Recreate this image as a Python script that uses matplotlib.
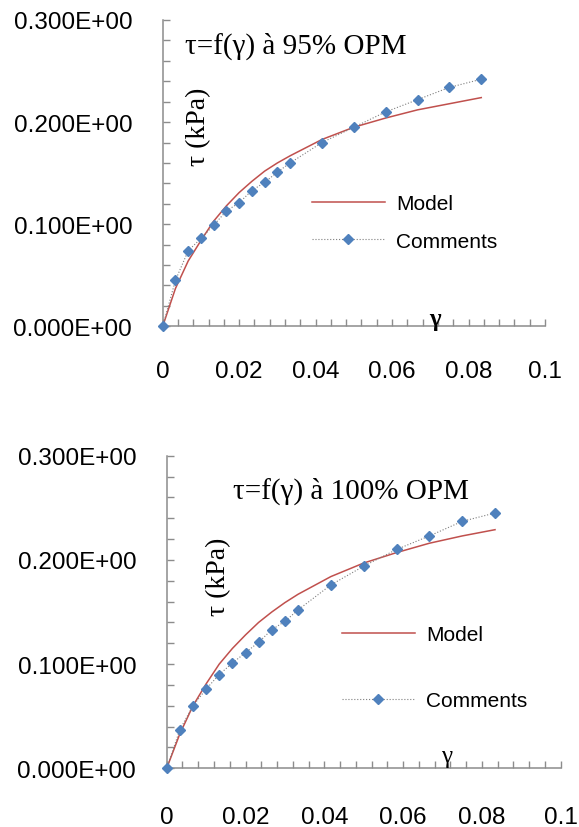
import numpy as np
import matplotlib
matplotlib.use("Agg")
import matplotlib.pyplot as plt
from matplotlib.ticker import FixedLocator

# ---- data ----
gamma = [0, 0.00333, 0.00667, 0.01, 0.01333, 0.01667, 0.02, 0.02333, 0.02667,
         0.03, 0.03333, 0.04167, 0.05, 0.05833, 0.06667, 0.075, 0.08333]

# 95% OPM
tau95_obs = [0, 0.045, 0.074, 0.086, 0.099, 0.113, 0.121, 0.133, 0.141,
             0.151, 0.160, 0.180, 0.195, 0.210, 0.222, 0.234, 0.242]
tau95_mod = [0, 0.037, 0.064, 0.084, 0.103, 0.118, 0.131, 0.142, 0.152,
             0.160, 0.167, 0.183, 0.195, 0.204, 0.212, 0.218, 0.224]

# 100% OPM
tau100_obs = [0, 0.037, 0.060, 0.076, 0.090, 0.101, 0.111, 0.121, 0.133,
              0.141, 0.152, 0.176, 0.194, 0.210, 0.223, 0.237, 0.245]
tau100_mod = [0, 0.033, 0.060, 0.081, 0.100, 0.115, 0.128, 0.140, 0.150,
              0.159, 0.167, 0.184, 0.197, 0.207, 0.216, 0.223, 0.229]

ytick_vals = [0.0, 0.1, 0.2, 0.3]
ytick_labels = ['0.000E+00', '0.100E+00', '0.200E+00', '0.300E+00']
xtick_vals = [0, 0.02, 0.04, 0.06, 0.08, 0.1]
xtick_labels = ['0', '0.02', '0.04', '0.06', '0.08', '0.1']

titles = [u'τ=f(γ) à 95% OPM', u'τ=f(γ) à 100% OPM']

red = '#C0504D'
blue = '#4F81BD'
gray = '#8C8C8C'
sans = 'Liberation Sans'
serif = 'Liberation Serif'

W, H = 579, 828
fig = plt.figure(figsize=(W/100, H/100), dpi=100)

# axes boxes in pixels: x0, x1, y_bottom(0), y_top(0.3)
boxes = [(162.7, 545.0, 327.3, 21.0), (166.7, 560.7, 769.3, 456.7)]
title_pos = [(0.058, 0.916), (0.169, 0.888)]
ylab_pos = [(0.093, 0.655), (0.131, 0.616)]
g_pos = [(0.712, 0.026), (0.711, 0.038)]
g_weight = ['bold', 'normal']
xpad = [24, 27]
leg_pos = [(311.7, 223.3, 0.9), (341.7, 668.9, 2.25)]
series = [(tau95_obs, tau95_mod), (tau100_obs, tau100_mod)]

for i in range(2):
    x0, x1, yb, yt = boxes[i]
    ax = fig.add_axes([x0/W, 1 - yb/H, (x1-x0)/W, (yb-yt)/H])
    obs, mod = series[i]
    ax.plot(gamma, mod, color=red, lw=1.1, label='Model', zorder=3)
    ax.plot(gamma, obs, color='#7F7F7F', lw=0.8, ls=':', marker='D', ms=5.5,
            mfc=blue, mec=blue, label='Comments', clip_on=False, zorder=4)

    ax.set_xlim(0, 0.1)
    ax.set_ylim(0, 0.3)
    for s in ['top', 'right']:
        ax.spines[s].set_visible(False)
    for s in ['left', 'bottom']:
        ax.spines[s].set_color(gray)
        ax.spines[s].set_linewidth(1.1)

    ax.yaxis.set_major_locator(FixedLocator(ytick_vals))
    ax.yaxis.set_minor_locator(FixedLocator(np.arange(0, 0.301, 0.02)))
    ax.set_yticklabels(ytick_labels, fontfamily=sans, fontsize=17.5)
    ax.xaxis.set_major_locator(FixedLocator(xtick_vals))
    ax.xaxis.set_minor_locator(FixedLocator(np.arange(0, 0.1001, 0.004)))
    ax.set_xticklabels(xtick_labels, fontfamily=sans, fontsize=17.5)
    ax.tick_params(which='both', direction='in', length=5, width=1, color=gray)
    ax.tick_params(axis='y', which='major', pad=22)
    ax.tick_params(axis='x', which='major', pad=xpad[i])

    ax.text(title_pos[i][0], title_pos[i][1], titles[i], transform=ax.transAxes,
            fontfamily=serif, fontsize=21, ha='left', va='center')
    ax.text(ylab_pos[i][0], ylab_pos[i][1], u'τ (kPa)', transform=ax.transAxes,
            fontfamily=serif, fontsize=20, rotation=90, ha='center', va='center')
    ax.text(g_pos[i][0], g_pos[i][1], u'γ', transform=ax.transAxes,
            fontfamily=serif, fontsize=18, fontweight=g_weight[i],
            ha='center', va='center')

    lx, ly, sp = leg_pos[i]
    ax.legend(loc='center left', bbox_to_anchor=(lx/W, 1 - ly/H),
              bbox_transform=fig.transFigure, frameon=False,
              prop={'family': sans, 'size': 15}, handlelength=3.5,
              handletextpad=0.55, labelspacing=sp, borderpad=0, borderaxespad=0)

fig.savefig('out.png', dpi=100)
